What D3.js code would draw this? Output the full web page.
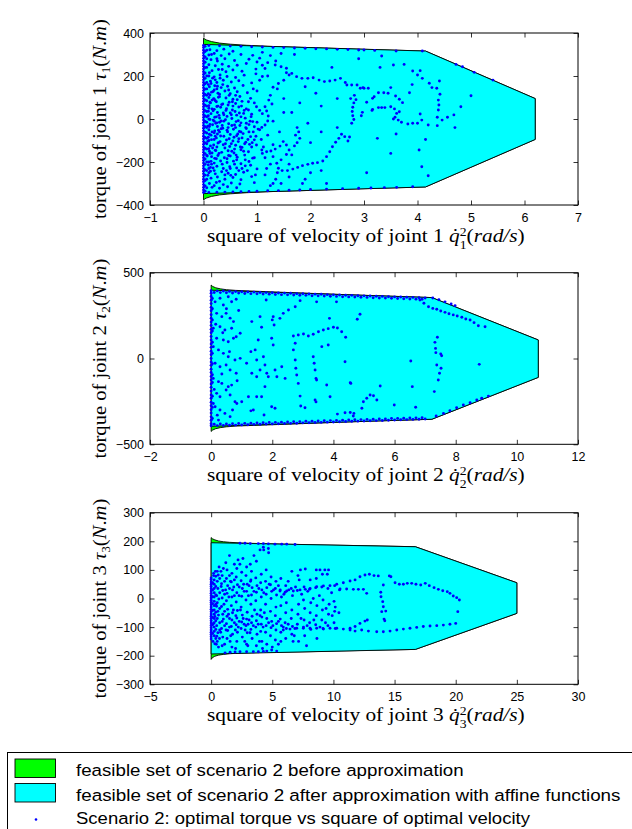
<!DOCTYPE html>
<html><head><meta charset="utf-8">
<script src="https://cdn.jsdelivr.net/npm/d3@7"></script>
<style>body{margin:0;background:#fff}</style>
</head><body>
<svg id="c" width="632" height="829"></svg>
<script>
// ---------- tick values ----------
const xTicks1=[-1,0,1,2,3,4,5,6,7], yTicks1=[-400,-200,0,200,400];
const xTicks2=[-2,0,2,4,6,8,10,12], yTicks2=[-500,0,500];
const xTicks3=[-5,0,5,10,15,20,25,30], yTicks3=[-300,-200,-100,0,100,200,300];

// ---------- feasible sets ----------
const cyan1=[[0,347],[4.15,316],[6.2,95],[6.2,-95],[4.15,-316],[0,-347]];
const green1=[[0,376],[0.05,368],[0.15,360],[0.3,353],[0.5,348],[0.8,343],[1.2,338],[2,332],[3,324],[4.15,316],[6.2,95],[6.2,-95],[4.15,-316],[3,-324],[2,-332],[1.2,-338],[0.8,-343],[0.5,-348],[0.3,-353],[0.15,-360],[0.05,-368],[0,-376]];
const cyan2=[[0,398],[7.22,355],[10.7,108],[10.7,-110],[7.22,-354],[0,-395]];
const green2=[[0,428],[0.05,420],[0.15,412],[0.3,406],[0.5,401],[0.8,397],[1.2,394],[2,388],[3.5,378],[5,368],[7.22,355],[10.7,108],[10.7,-110],[7.22,-354],[5,-366],[3.5,-376],[2,-386],[1.2,-391],[0.8,-394],[0.5,-398],[0.3,-403],[0.15,-409],[0.05,-417],[0,-425]];
const cyan3=[[0,195],[16.7,181],[25,55],[25,-52],[16.7,-178],[0,-194]];
const green3=[[0,213],[0.1,209],[0.3,205],[0.6,201],[1,198.5],[1.5,196.5],[2.5,194],[4,192],[8,188],[12,185],[16.7,181],[25,55],[25,-52],[16.7,-178],[12,-182],[8,-186],[4,-189],[2.5,-191],[1.5,-193],[1,-195.5],[0.6,-198],[0.3,-202],[0.1,-207],[0,-213]];

// ---------- optimal points (square of velocity, torque) ----------
const pts1=[
[0,-342],[0,-330],[0,-318],[0,-305],[0,-292],[0,-280],[0,-268],[0,-255],[0,-243],[0,-230],[0,-218],[0,-205],[0,-193],[0,-180],[0,-168],[0,-155],[0,-143],[0,-130],[0,-118],[0,-105],[0,-93],[0,-80],[0,-68],[0,-55],[0,-43],[0,-30],[0,-18],[0,-5],[0,7],[0,20],[0,32],[0,45],[0,57],[0,70],[0,82],[0,95],[0,107],[0,120],[0,132],[0,145],[0,157],[0,170],[0,182],[0,195],[0,207],[0,220],[0,232],[0,245],[0,257],[0,270],[0,282],[0,295],[0,307],[0,320],[0,332],[0,342],
[0.03,-336],[0.03,-311],[0.03,-286],[0.03,-261],[0.03,-236],[0.03,-211],[0.03,-186],[0.03,-161],[0.03,-136],[0.03,-111],[0.03,-86],[0.03,-61],[0.03,-36],[0.03,-11],[0.03,14],[0.03,39],[0.03,64],[0.03,89],[0.03,114],[0.03,139],[0.03,164],[0.03,189],[0.03,214],[0.03,239],[0.03,264],[0.03,289],[0.03,314],[0.03,338],
[0.06,-320],[0.06,-280],[0.06,-240],[0.06,-200],[0.06,-170],[0.06,-140],[0.06,-115],[0.06,-90],[0.06,-65],[0.06,-40],[0.06,-15],[0.06,10],[0.06,35],[0.06,60],[0.06,85],[0.06,110],[0.06,140],[0.06,170],[0.06,200],[0.06,240],[0.06,280],[0.06,320],
[0.1,342],[0.3,341],[0.5,339],[0.7,338],[0.9,336],[1.1,335],[1.3,333],[1.5,332],[1.7,330],[1.9,329],[2.1,327],[2.3,326],[2.5,324],[2.7,323],[2.9,321],[3.2,319],[3.6,316],[4.09,316],
[0.1,-342],[0.25,-341],[0.4,-340],[0.55,-339],[0.7,-338],[0.85,-337],[1.0,-336],[1.2,-334],[1.4,-333],[1.6,-331],[1.8,-330],[2.0,-328],[2.3,-326],[2.6,-324],[2.9,-322],[3.13,-321],[3.38,-319],[3.61,-318],[3.91,-315],
[0.12,322],[0.25,318],[0.38,325],[0.55,315],
[0.1,298],[0.2,305],[0.33,295],[0.48,302],[0.7,300],[0.92,296],
[0.14,276],[0.26,270],[0.4,280],[0.58,272],[0.85,278],[1.05,283],
[0.1,252],[0.22,248],[0.35,255],[0.47,245],[0.63,250],[0.8,258],[1.2,262],
[0.16,225],[0.28,230],[0.42,220],[0.55,228],[0.72,222],[0.98,232],
[0.1,200],[0.2,196],[0.31,205],[0.44,198],[0.6,193],[0.76,204],[1.1,198],[1.6,205],
[0.13,176],[0.25,170],[0.37,180],[0.52,172],[0.66,178],[0.9,168],
[0.11,150],[0.21,155],[0.33,146],[0.45,152],[0.58,144],[0.74,156],[1.3,148],
[0.15,125],[0.27,120],[0.4,130],[0.5,118],[0.63,127],[0.82,122],[1.0,130],
[0.1,100],[0.19,95],[0.3,104],[0.42,98],[0.55,92],[0.68,105],[0.88,96],[1.22,88],
[0.13,75],[0.24,80],[0.36,70],[0.48,78],[0.6,72],[0.72,82],[0.95,75],
[0.1,50],[0.2,45],[0.32,55],[0.43,48],[0.54,42],[0.66,56],[0.8,47],[1.05,40],
[0.14,25],[0.26,30],[0.38,20],[0.5,28],[0.62,18],[0.75,26],[0.9,22],
[0.1,0],[0.18,-5],[0.3,5],[0.41,-3],[0.53,2],[0.65,-8],[0.78,4],[1.3,-10],
[0.12,-25],[0.23,-20],[0.35,-30],[0.47,-22],[0.58,-28],[0.7,-18],[0.85,-26],[1.0,-15],
[0.1,-50],[0.21,-55],[0.33,-45],[0.44,-52],[0.56,-48],[0.67,-58],[0.8,-44],[0.93,-60],
[0.14,-75],[0.26,-70],[0.38,-80],[0.5,-72],[0.62,-78],[0.74,-68],[0.88,-82],[1.2,-75],
[0.1,-100],[0.2,-95],[0.31,-105],[0.43,-98],[0.55,-102],[0.66,-92],[0.79,-108],[0.95,-97],
[0.13,-125],[0.25,-130],[0.37,-120],[0.49,-128],[0.6,-122],[0.72,-132],[0.86,-118],
[0.11,-150],[0.22,-145],[0.34,-155],[0.46,-148],[0.57,-158],[0.7,-143],[0.84,-152],[1.1,-160],
[0.15,-175],[0.27,-170],[0.39,-180],[0.5,-172],[0.63,-178],[0.77,-168],[0.92,-182],
[0.1,-200],[0.2,-205],[0.32,-195],[0.44,-202],[0.56,-196],[0.7,-208],[0.85,-198],[1.25,-210],
[0.13,-225],[0.25,-220],[0.37,-230],[0.49,-222],[0.62,-228],[0.78,-218],[1.0,-232],
[0.1,-250],[0.22,-255],[0.34,-245],[0.46,-252],[0.6,-258],[0.75,-248],[1.15,-260],
[0.14,-275],[0.26,-270],[0.4,-280],[0.55,-272],[0.7,-282],[0.9,-268],
[0.11,-300],[0.24,-295],[0.37,-305],[0.52,-298],[0.68,-302],[0.95,-296],[1.3,-300],
[0.16,-318],[0.3,-322],[0.45,-315],[0.62,-320],
[0.1,-230],[0.15,-210],[0.12,-160],[0.17,-135],[0.09,-85],[0.16,-60],[0.11,-35],[0.2,-10],[0.09,15],[0.18,38],[0.1,62],[0.16,88],[0.12,112],[0.2,135],[0.09,160],[0.17,190],[0.11,215],[0.2,-240],[0.24,-185],[0.28,-110],[0.22,-80],[0.3,-60],[0.26,-35],[0.24,10],[0.3,-15],[0.27,60],[0.22,85],[0.3,115],[0.25,140],[0.29,-160],[0.35,-210],[0.4,-135],[0.45,-60],[0.38,-10],[0.42,40],[0.47,-170],[0.52,-115],[0.6,-40],[0.58,-140],[0.65,-105],[0.7,-60],[0.62,-190],[0.75,-150],[0.8,-20],[0.55,60],[0.48,110],[0.36,160],[0.7,10],[0.9,-130],[0.85,-60],[0.98,-80],[1.05,-50],[0.95,-180],[0.72,-230],[0.82,-240],[0.4,-260],[0.3,-290],[0.2,-310],[0.5,-230],[0.35,230],[0.25,280],[0.15,300],
[0.08,-262],[0.13,-243],[0.18,-228],[0.09,-214],[0.14,-197],[0.21,-183],[0.07,-172],[0.16,-158],[0.23,-147],[0.1,-138],[0.19,-121],[0.27,-112],[0.08,-104],[0.15,-96],[0.24,-88],[0.32,-79],[0.11,-71],[0.2,-64],[0.28,-52],[0.36,-43],[0.08,-33],[0.17,-27],[0.25,-18],[0.33,-9],[0.12,-2],[0.21,8],[0.29,17],[0.37,28],[0.09,36],[0.16,47],[0.25,58],[0.34,67],[0.12,78],[0.2,92],[0.28,101],[0.09,118],[0.18,128],[0.26,152],[0.14,165],[0.22,182],[0.31,190],[0.43,-240],[0.51,-262],[0.58,-210],[0.66,-240],[0.44,-185],[0.53,-150],[0.61,-168],[0.69,-130],[0.41,-115],[0.48,-92],[0.57,-85],[0.64,-70],[0.72,-88],[0.46,-40],[0.53,-30],[0.61,-12],[0.68,-30],[0.44,12],[0.52,20],[0.59,35],[0.67,28],[0.46,65],[0.54,80],[0.63,90],[0.71,60],[0.47,135],[0.6,110],[0.77,-115],[0.83,-95],[0.91,-110],[0.79,-40],[0.87,-10],[0.76,40],[0.84,80],[0.93,140],[0.78,-190],[0.88,-215],[0.97,-260],[1.08,-95],[1.12,-130],[1.18,-230],[1.3,-175],[1.38,-250],[1.42,-60],[1.1,25],[1.28,70],[1.38,140],[1.5,180],[0.98,210],[1.1,250],[1.2,200],[1.45,-300],[1.25,-310],[1.6,-210],[1.55,-165],[1.9,-280],[2.2,-240],[1.5,30],
[1.1,310],[1.25,295],[1.45,305],[1.7,300],[1.0,265],[1.35,270],[1.15,235],[1.55,215],[1.9,150],[1.05,180],[1.4,165],[1.5,95],[1.25,110],[1.8,75],[2.2,60],[1.65,30],[1.3,-120],[1.15,-180],[1.45,-190],[1.6,-270],[1.35,-280],[1.85,-300],[2.0,-250],[2.3,-300],[2.1,120],[2.5,95],[1.95,-20],[2.2,-60],[2.5,-40],[2.0,-110],[2.4,240],[2.9,280],[3.3,240],[3.45,120],[2.95,15],[3.25,-90],[3.5,-160],[3.05,-250],[3.6,-70],[4.15,-95],[3.9,160],[4.7,-40],[3.15,40],[2.65,170],
[1.75,-40],[1.78,-60],[1.72,-75],[1.8,-90],[1.75,-110],[1.7,-125],
[1.34,251],[1.45,243],[1.55,236],[1.65,212],[1.74,197],[1.84,189],[1.95,189],[2.05,192],[2.16,181],[2.26,174],[2.36,177],[2.46,181],[2.56,189],[2.68,158],[2.77,158],[2.87,158],[2.98,146],[3.08,143],
[2.75,95],[2.82,110],[2.85,90],[2.81,75],[2.79,55],[2.78,35],[2.79,15],[2.81,-2],[2.77,-20],
[0.84,42],[0.89,11],[0.92,-12],[0.95,-36],[1.02,-47],[1.09,-39],[1.15,-28],[1.2,-9],[1.21,14],[1.18,37],[1.15,57],[0.99,57],
[0.99,-121],[1.09,-144],[1.18,-152],[1.26,-149],[1.34,-140],[1.43,-126],[1.49,-105],[1.55,-121],[1.6,-144],[1.65,-167],
[1.37,-206],[1.4,-229],[1.47,-240],[1.57,-240],[1.67,-233],[1.76,-225],[1.85,-217],[1.95,-211],[2.04,-206],[2.13,-203],[2.23,-195],[2.3,-175],[2.36,-152],[2.41,-129],[2.47,-108],[2.53,-90],[2.58,-71],[2.64,-82],[2.7,-102],[2.73,-84],
[3.0,321],[3.33,293],[3.55,251],[3.75,254],[3.91,223],[4.05,225],[4.0,205],[4.09,189],[4.22,166],[4.41,177],[4.27,146],[4.36,143],[4.42,115],[4.39,88],[4.4,65],[4.39,42],[4.37,8],[4.46,-5],[4.56,8],[4.68,19],[4.81,57],[5.0,108],[4.37,-31],[4.2,-28],[4.05,23],[4.08,-5],[4.0,-20],[3.91,-20],[3.82,-23],[3.7,-15],[3.64,-5],[3.58,8],[3.55,0],[3.61,26],[3.66,34],[3.57,47],[3.5,57],[3.39,53],[3.33,53],[3.27,53],[3.16,45],[2.97,31],[3.05,78],[3.16,96],[3.19,104],[3.27,122],[3.37,122],[3.5,146],[3.59,107],[3.66,92],[3.72,76],[3.85,122],[2.93,143],[3.0,143],
[4.03,-144],[4.08,-222],[4.2,-264],[4.72,254],[4.84,243],[5.06,217],[5.41,181]
];

const pts2=[
[0,-380],[0,-360],[0,-340],[0,-318],[0,-298],[0,-275],[0,-255],[0,-232],[0,-212],[0,-190],[0,-168],[0,-148],[0,-125],[0,-105],[0,-82],[0,-62],[0,-40],[0,-20],[0,0],[0,22],[0,42],[0,65],[0,85],[0,108],[0,128],[0,150],[0,170],[0,192],[0,212],[0,235],[0,255],[0,278],[0,298],[0,320],[0,340],[0,362],[0,380],
[0.04,-350],[0.04,-285],[0.04,-220],[0.04,-140],[0.04,-95],[0.04,-30],[0.04,30],[0.04,95],[0.04,160],[0.04,225],[0.04,290],[0.04,350],
[0,395],[0.2,394],[0.4,393],[0.6,391],[0.8,390],[1.0,389],[1.2,388],[1.4,387],[1.6,385],[1.8,384],[2.0,383],[2.2,382],[2.4,381],[2.6,380],[2.8,378],[3.0,377],[3.2,376],[3.4,375],[3.6,374],[3.8,372],[4.0,371],[4.2,370],[4.4,369],[4.6,368],[4.8,366],[5.0,365],[5.2,364],[5.4,363],[5.6,362],[5.8,360],[6.0,359],[6.2,358],[6.4,357],[6.6,356],[6.8,354],[7.0,353],
[0.1,385],[0.3,384],[0.5,383],[0.7,382],[0.9,381],[1.1,379],[1.3,378],[1.5,377],[1.7,376],[1.9,375],[2.1,373],[2.3,372],[2.5,371],[2.7,370],[2.9,369],[3.1,368],[3.3,366],[3.5,365],[3.7,364],[3.9,363],[4.1,362],[4.3,360],[4.5,359],[4.7,358],[4.9,357],[5.1,356],[5.3,354],[5.5,353],[5.7,352],[5.9,351],[6.1,350],[6.3,348],[6.5,347],[6.7,346],[6.9,345],
[0,-392],[0.2,-391],[0.4,-390],[0.6,-389],[0.8,-388],[1.0,-387],[1.2,-386],[1.4,-384],[1.6,-383],[1.8,-382],[2.0,-381],[2.2,-380],[2.4,-379],[2.6,-378],[2.8,-377],[3.0,-375],[3.2,-374],[3.4,-373],[3.6,-372],[3.8,-371],[4.0,-370],[4.2,-369],[4.4,-367],[4.6,-366],[4.8,-365],[5.0,-364],[5.2,-363],[5.4,-362],[5.6,-361],[5.8,-360],[6.0,-358],[6.2,-357],[6.4,-356],[6.6,-355],[6.8,-354],[7.0,-353],
[0.1,-383],[0.3,-382],[0.5,-381],[0.7,-380],[0.9,-379],[1.1,-378],[1.3,-377],[1.5,-376],[1.7,-374],[1.9,-373],[2.1,-372],[2.3,-371],[2.5,-370],[2.7,-369],[2.9,-368],[3.1,-366],[3.3,-365],[3.5,-364],[3.7,-363],[3.9,-362],[4.1,-361],[4.3,-360],[4.5,-358],[4.7,-357],[4.9,-356],[5.1,-355],[5.3,-354],[5.5,-353],[5.7,-352],[5.9,-350],[6.1,-349],[6.3,-348],[6.5,-347],[6.7,-346],[6.9,-345],
[7.25,353],[7.45,342],[7.65,330],[7.85,318],[7.98,308],
[6.83,341],[6.96,322],[7.11,302],[7.25,292],[7.38,287],[7.51,277],[7.65,269],[7.78,261],[7.92,254],[8.05,248],[8.2,240],[8.33,230],[8.47,224],[8.6,209],[8.74,191],[8.96,185],
[7.4,124],[7.32,94],[7.34,59],[7.35,34],[7.51,26],[7.54,16],[7.38,-38],[7.52,-57],[7.47,-86],[7.43,-125],[7.3,-193],
[6.53,-15],[8.77,-34],[6.58,-164],[6.69,-284],[5.99,-271],[4.87,258],[4.78,229],[5.53,-160],[4.55,-141],
[7.36,-335],[7.6,-320],[7.81,-304],[8.03,-287],[8.25,-271],[8.47,-258],[8.69,-242],[8.85,-232],[9.07,-219],
[5.09,-232],[5.2,-213],[5.31,-217],[5.42,-242],[4.93,-290],[4.98,-252],[4.67,-320],[4.55,-315],
[2.69,131],[2.85,137],[3.02,143],[3.18,131],[3.34,141],[3.51,156],[3.67,166],[3.83,174],[4.0,182],[4.13,178],[4.27,156],[4.4,124],
[2.75,89],[2.69,50],[2.75,-9],[2.77,-57],[2.8,-96],[2.85,-145],[2.91,-219],[2.93,-277],[3.07,-287],
[3.34,10],[3.37,-28],[3.4,-67],[3.43,-116],[3.45,-125],[3.4,-242],[3.43,-253],[3.78,-154],[3.89,-223],[4.13,-324],[4.38,-316],[4.65,-335],[4.38,-19],[4.57,-145],[3.62,69],[3.83,79],[3.45,330],[4.1,330],[3.87,234],
[0.13,330],[0.29,351],[0.4,312],[0.56,360],[0.67,331],[0.82,345],[0.18,263],[0.35,244],[0.49,263],[0.62,235],[0.73,215],[0.07,176],[0.29,185],[0.45,166],[0.67,176],[0.82,127],[0.18,118],[0.4,108],[0.56,98],[0.73,118],[0.07,69],[0.24,50],[0.4,30],[0.56,10],[0.78,-9],[0.13,-28],[0.29,-48],[0.49,-38],[0.62,-67],[0.82,-86],[0.07,-116],[0.24,-135],[0.35,-145],[0.56,-164],[0.67,-155],[0.18,-203],[0.29,-223],[0.49,-184],[0.62,-213],[0.78,-252],[0.13,-281],[0.29,-300],[0.45,-320],[0.62,-339],[0.84,-262],[1.0,-252],[0.24,-359],[0.07,-262],[0.95,1],[0.5,290],[0.9,280],[0.15,200],[0.6,40],[0.35,-90],[0.85,-130],[0.2,-330],[0.7,-300],[0.38,150],[0.1,-180],
[0.95,147],[1.33,215],[1.6,244],[1.65,182],[1.54,108],[1.44,50],[1.49,-9],[1.71,10],[1.76,-38],[1.82,-86],[1.87,-106],[1.76,-164],[1.65,-223],[1.49,-223],[1.38,-300],[1.3,-305],[1.73,-329],[2.03,244],[2.0,225],[2.06,195],[2.25,234],[2.36,263],[2.53,283],[2.75,302],[2.91,337],[1.8,341],[1.33,-86],[1.49,-106],[1.98,118],[2.03,79],[2.09,-67],[2.15,-106],[2.31,-48],[2.42,-116],[1.6,-67],[1.16,-28],[1.22,-223],[1.98,-281],[2.09,-290],[1.3,40]
];

const pts3=[
[0,-142],[0,-134],[0,-126],[0,-118],[0,-110],[0,-102],[0,-94],[0,-86],[0,-78],[0,-70],[0,-62],[0,-54],[0,-46],[0,-38],[0,-30],[0,-22],[0,-14],[0,-6],[0,2],[0,10],[0,18],[0,26],[0,34],[0,42],[0,50],[0,58],[0,66],[0,72],
[0.25,-130],[0.25,-115],[0.25,-100],[0.25,-85],[0.25,-70],[0.25,-55],[0.25,-40],[0.25,-25],[0.25,-10],[0.25,5],[0.25,20],[0.25,35],[0.25,50],[0.25,65],
[0.12,-122],[0.12,-92],[0.12,-66],[0.12,-42],[0.12,-18],[0.12,6],[0.12,30],[0.12,55],
[0.38,-140],[0.38,-108],[0.38,-78],[0.38,-48],[0.38,-20],[0.38,12],[0.38,42],[0.38,78],
[0.5,95],[0.5,60],[0.55,35],[0.45,10],[0.5,-15],[0.55,-45],[0.5,-70],[0.45,-95],[0.55,-120],[0.5,-150],
[0.7,70],[0.7,20],[0.7,-35],[0.7,-85],[0.7,-110],
[0.9,80],[0.85,52],[0.95,28],[0.9,2],[0.85,-28],[0.95,-55],[0.9,-80],[0.85,-105],[0.95,-135],[0.9,-165],
[1.1,60],[1.1,-45],[1.1,-95],[1.1,15],
[1.3,100],[1.25,70],[1.35,45],[1.3,18],[1.25,-8],[1.35,-38],[1.3,-62],[1.25,-88],[1.35,-112],[1.3,-140],
[1.5,80],[1.5,-70],[1.5,-100],[1.5,35],
[1.7,88],[1.65,58],[1.75,30],[1.7,5],[1.65,-25],[1.75,-50],[1.7,-75],[1.65,-98],[1.75,-125],[1.7,-170],
[1.9,65],[1.9,-85],[1.9,10],
[2.1,105],[2.05,75],[2.15,48],[2.1,20],[2.05,-12],[2.15,-42],[2.1,-68],[2.05,-92],[2.15,-118],[2.1,-150],
[2.3,40],[2.3,-80],
[2.5,92],[2.45,62],[2.55,35],[2.5,8],[2.45,-30],[2.55,-58],[2.5,-82],[2.45,-105],[2.55,-135],
[2.7,25],[2.7,-90],
[2.9,110],[2.85,80],[2.95,50],[2.9,25],[2.85,-5],[2.95,-48],[2.9,-72],[2.85,-95],[2.95,-120],[2.9,-160],
[3.1,45],[3.1,-75],
[3.3,95],[3.25,65],[3.35,38],[3.3,12],[3.25,-20],[3.35,-62],[3.3,-85],[3.25,-108],[3.35,-140],
[3.7,130],[3.65,72],[3.75,45],[3.7,22],[3.65,-8],[3.75,-55],[3.7,-78],[3.65,-100],[3.75,-125],[3.7,-165],
[4.1,85],[4.05,55],[4.15,30],[4.1,5],[4.05,-40],[4.15,-65],[4.1,-90],[4.05,-115],[4.15,-150],
[4.5,100],[4.45,60],[4.55,38],[4.5,15],[4.45,-20],[4.55,-70],[4.5,-95],[4.45,-118],[4.55,-160],
[4.9,75],[4.85,48],[4.95,25],[4.9,0],[4.85,-45],[4.95,-80],[4.9,-102],[4.85,-130],
[5.3,60],[5.25,35],[5.35,12],[5.3,-30],[5.25,-60],[5.35,-88],[5.3,-110],[5.25,-145],
[5.7,70],[5.65,30],[5.75,5],[5.7,-25],[5.65,-72],[5.75,-95],[5.7,-118],
[6.1,45],[6.05,22],[6.15,-15],[6.1,-50],[6.05,-85],[6.15,-105],[6.1,-140],
[6.6,95],[6.55,35],[6.65,10],[6.6,-40],[6.55,-70],[6.65,-98],[6.6,-125],
[7.1,80],[7.05,28],[7.15,-20],[7.1,-55],[7.05,-90],[7.15,-150],
[7.6,40],[7.55,-5],[7.65,-35],[7.6,-75],[7.55,-100],[7.65,-130],
[8.1,65],[8.05,32],[8.15,-15],[8.1,-50],[8.05,-85],[8.15,-108],
[8.6,100],[8.55,38],[8.65,-25],[8.6,-60],[8.55,-92],[8.65,-140],
[9.1,85],[9.05,40],[9.15,-5],[9.1,-40],[9.05,-75],[9.15,-105],
[9.6,100],[9.55,35],[9.65,-20],[9.6,-55],[9.55,-95],
[10.1,45],[10.05,-10],[10.15,-30],[10.1,-45],[10.05,-85],[10.15,-105],
[10.5,30],[10.45,-50],
[0.18,-88],[0.31,-63],[0.44,-27],[0.6,-58],[0.63,-2],[0.78,-118],[0.82,42],[0.68,-140],[0.2,88],[0.35,95],[0.46,-132],[0.58,82],[1.0,-72],[1.05,-20],[1.18,30],[1.22,-110],[1.42,-55],[1.45,5],[1.58,60],[1.6,-130],[1.82,-40],[1.85,40],[1.98,-110],[2.02,-60],[2.22,-100],[2.28,10],[2.4,-40],[2.62,-70],[2.66,50],[2.78,-110],[3.02,-90],[3.05,10],[3.18,-120],[3.22,60],[3.45,-95],[3.5,25],[3.55,-40],[3.85,-90],[3.9,35],[4.0,-60],[4.25,-100],[4.3,20],[4.35,-50],[4.7,-85],[4.75,50],[5.05,-95],[5.1,30],[5.5,-80],[5.5,45],[5.9,-100],[5.95,15],[6.3,-90],[6.35,30],[6.85,-105],[6.9,40],[7.35,-70],[7.4,15],[7.85,-95],[7.9,25],[8.4,-75],[8.35,0],[8.9,-100],[8.85,10],[9.35,-85],[9.4,-35],[9.9,-60],[9.85,20],[0.15,-150],[0.3,-158],[0.6,-170],[0.2,80],[0.65,110],[1.2,125],[0.42,-160],[0.8,95],[1.55,-150],[2.35,120],[2.75,-150],[3.5,150],[3.95,-150],[5.5,-160],[6.3,60],[6.8,-130],[7.2,65],
[2.36,193],[2.77,193],[3.2,192],[3.86,192],[4.27,192],[4.68,191],[5.22,190],[5.77,190],[6.18,190],[6.86,189],[4.27,179],[4.68,175],[4.0,170],
[1.14,-190],[1.55,-188],[1.96,-187],[2.36,-186],[2.9,-186],[3.45,-186],[3.86,-186],[4.27,-185],[4.55,-184],[4.95,-180],[5.36,-184],
[1.5,150],[1.9,120],[2.2,135],[3.2,120],[1.0,105],[2.6,140],[4.3,170],[4.7,160],[7.3,100],[7.7,103],[8.9,100],[9.3,100],[9.5,85],[8.6,70],
[1.1,-160],[2.0,-175],[3.0,-165],[4.2,-175],[5.0,-170],[5.7,-150],[6.7,-150],[7.8,-165],
[5.63,26],[6.18,26],[6.72,26],[7.27,30],[7.7,32],[8.09,35],[8.63,41],[9.18,44],[9.72,45],[10.27,50],[10.81,55],[11.36,61],[11.77,65],[12.17,76],[12.58,82],[12.94,85],[13.32,80],[13.67,79],
[10.54,33],[11.08,33],[11.63,32],[12.04,32],[12.45,32],[12.72,18],
[14.57,79],[14.7,76],[15.04,55],[15.39,50],[15.72,50],[16.04,53],[16.4,53],[16.75,50],[17.14,47],[17.51,53],[17.84,45],[18.23,38],[18.58,32],[18.94,27],[19.31,24],[19.53,18],[19.8,9],[20.08,3],[20.3,-5],[20.17,-46],
[14.08,47],[13.87,22],[13.89,6],[14.03,-11],[14.08,-29],[14.28,-44],[13.95,-46],[14.14,-72],[14.2,-78],
[5.9,-110],[6.45,-107],[7.0,-104],[7.54,-104],[8.09,-104],[8.63,-104],[9.18,-107],[9.72,-104],[10.27,-104],[10.81,-107],[11.36,-104],[11.77,-98],[12.17,-87],[12.58,-79],[12.77,-75],
[11.36,-110],[11.77,-114],[12.31,-110],[12.86,-114],[13.54,-116],[14.08,-116],[14.63,-114],[15.18,-110],[15.72,-107],[16.26,-104],[16.81,-101],[17.35,-98],[17.9,-96],[18.45,-95],[18.99,-93],[19.53,-90],[20.0,-87]
];

// ---------- legend texts ----------
const legendItems=['feasible set of scenario 2 before approximation','feasible set of scenario 2 after approximation with affine functions','Scenario 2: optimal torque vs square of optimal velocity'];

// ---------- drawing ----------
const svg=d3.select('#c');
const L=150,R=578;
const panels=[
 {top:33,bottom:205,xd:[-1,7],yd:[-400,400],xt:xTicks1,yt:yTicks1,green:green1,cyan:cyan1,pts:pts1,n:'1'},
 {top:272.7,bottom:444.3,xd:[-2,12],yd:[-500,500],xt:xTicks2,yt:yTicks2,green:green2,cyan:cyan2,pts:pts2,n:'2'},
 {top:512.7,bottom:684.3,xd:[-5,30],yd:[-300,300],xt:xTicks3,yt:yTicks3,green:green3,cyan:cyan3,pts:pts3,n:'3'}
];
const SANS='"Liberation Sans", Arial, Helvetica, sans-serif';
const SERIF='"Liberation Serif", "Times New Roman", serif';
function styleAxis(g){
  g.select('.domain').remove();
  g.attr('font-family',SANS).attr('font-size',12.5);
  g.selectAll('.tick line').attr('stroke','#000').attr('stroke-width',0.8);
  g.selectAll('.tick text').attr('fill','#000');
}
// stretch a text horizontally to a target width, centred at (cx,cy), optionally rotated
function fit(t,target,cx,cy,rot){
  const w=t.node().getBBox().width;
  const s=target/w;
  t.attr('transform',`translate(${cx},${cy}) rotate(${rot}) scale(${s},1) translate(${-w/2},0)`);
}
const TK=4.5;
panels.forEach(p=>{
  const x=d3.scaleLinear().domain(p.xd).range([L,R]);
  const y=d3.scaleLinear().domain(p.yd).range([p.bottom,p.top]);
  const g=svg.append('g');
  const line=d3.line().x(d=>x(d[0])).y(d=>y(d[1]));
  g.append('path').attr('d',line(p.green)+'Z').attr('fill','#00ff00').attr('stroke','#000').attr('stroke-width',0.9);
  g.append('path').attr('d',line(p.cyan)+'Z').attr('fill','#00ffff').attr('stroke','#000').attr('stroke-width',0.9);
  g.append('g').selectAll('circle').data(p.pts).join('circle')
    .attr('cx',d=>x(d[0])).attr('cy',d=>y(d[1])).attr('r',1.45).attr('fill','#0000ff');
  g.append('rect').attr('x',L).attr('y',p.top).attr('width',R-L).attr('height',p.bottom-p.top)
    .attr('fill','none').attr('stroke','#000').attr('stroke-width',1);
  g.append('g').attr('transform',`translate(0,${p.bottom})`)
    .call(d3.axisBottom(x).tickValues(p.xt).tickSizeInner(-TK).tickSizeOuter(0).tickPadding(8)).call(styleAxis);
  g.append('g').attr('transform',`translate(0,${p.top})`)
    .call(d3.axisTop(x).tickValues(p.xt).tickSizeInner(-TK).tickSizeOuter(0).tickFormat('')).call(styleAxis);
  g.append('g').attr('transform',`translate(${L},0)`)
    .call(d3.axisLeft(y).tickValues(p.yt).tickSizeInner(-TK).tickSizeOuter(0).tickPadding(6)).call(styleAxis);
  g.append('g').attr('transform',`translate(${R},0)`)
    .call(d3.axisRight(y).tickValues(p.yt).tickSizeInner(-TK).tickSizeOuter(0).tickFormat('')).call(styleAxis);

  // x label
  const t=g.append('text').attr('x',0).attr('y',0)
    .attr('font-family',SERIF).attr('font-size',18).attr('fill','#000');
  t.append('tspan').text(`square of velocity of joint ${p.n} `);
  t.append('tspan').attr('font-style','italic').text('q\u0307');
  t.append('tspan').attr('dy',-6.5).attr('font-size',11.5).text('2');
  t.append('tspan').attr('dx',-5.8).attr('dy',13).attr('font-size',11.5).text(p.n);
  t.append('tspan').attr('dy',-6.5).text('(');
  t.append('tspan').attr('font-style','italic').text('rad/s');
  t.append('tspan').text(')');
  fit(t,318,366,p.bottom+37,0);

  // y label
  const yl=g.append('text').attr('x',0).attr('y',0)
    .attr('font-family',SERIF).attr('font-size',18).attr('fill','#000');
  yl.append('tspan').text(`torque of joint ${p.n} `);
  yl.append('tspan').attr('font-style','italic').text('\u03c4');
  yl.append('tspan').attr('dy',4).attr('font-size',11.5).text(p.n);
  yl.append('tspan').attr('dy',-4).text('(');
  yl.append('tspan').attr('font-style','italic').text('N');
  yl.append('tspan').text('.');
  yl.append('tspan').attr('font-style','italic').text('m');
  yl.append('tspan').text(')');
  fit(yl,200,106,(p.top+p.bottom)/2,-90);
});

// ---------- legend ----------
const lg=svg.append('g');
lg.append('rect').attr('x',7.5).attr('y',752.5).attr('width',700).attr('height',120).attr('fill','#fff').attr('stroke','#000').attr('stroke-width',1);
lg.append('rect').attr('x',15).attr('y',759).attr('width',40.5).attr('height',18.5).attr('fill','#00ff00').attr('stroke','#000').attr('stroke-width',0.9);
lg.append('rect').attr('x',15).attr('y',783.5).attr('width',40.5).attr('height',18.5).attr('fill','#00ffff').attr('stroke','#000').attr('stroke-width',0.9);
lg.append('circle').attr('cx',36).attr('cy',819.5).attr('r',1.3).attr('fill','#0000ff');
const base=[776,800.5,823.5];
const widths=[388,545,455];
legendItems.forEach((s,i)=>{
  const tx=lg.append('text').attr('x',0).attr('y',0).attr('font-family',SANS).attr('font-size',17).attr('fill','#000').text(s);
  const w=tx.node().getBBox().width;
  tx.attr('transform',`translate(76,${base[i]}) scale(${widths[i]/w},1)`);
});
</script>
</body></html>
